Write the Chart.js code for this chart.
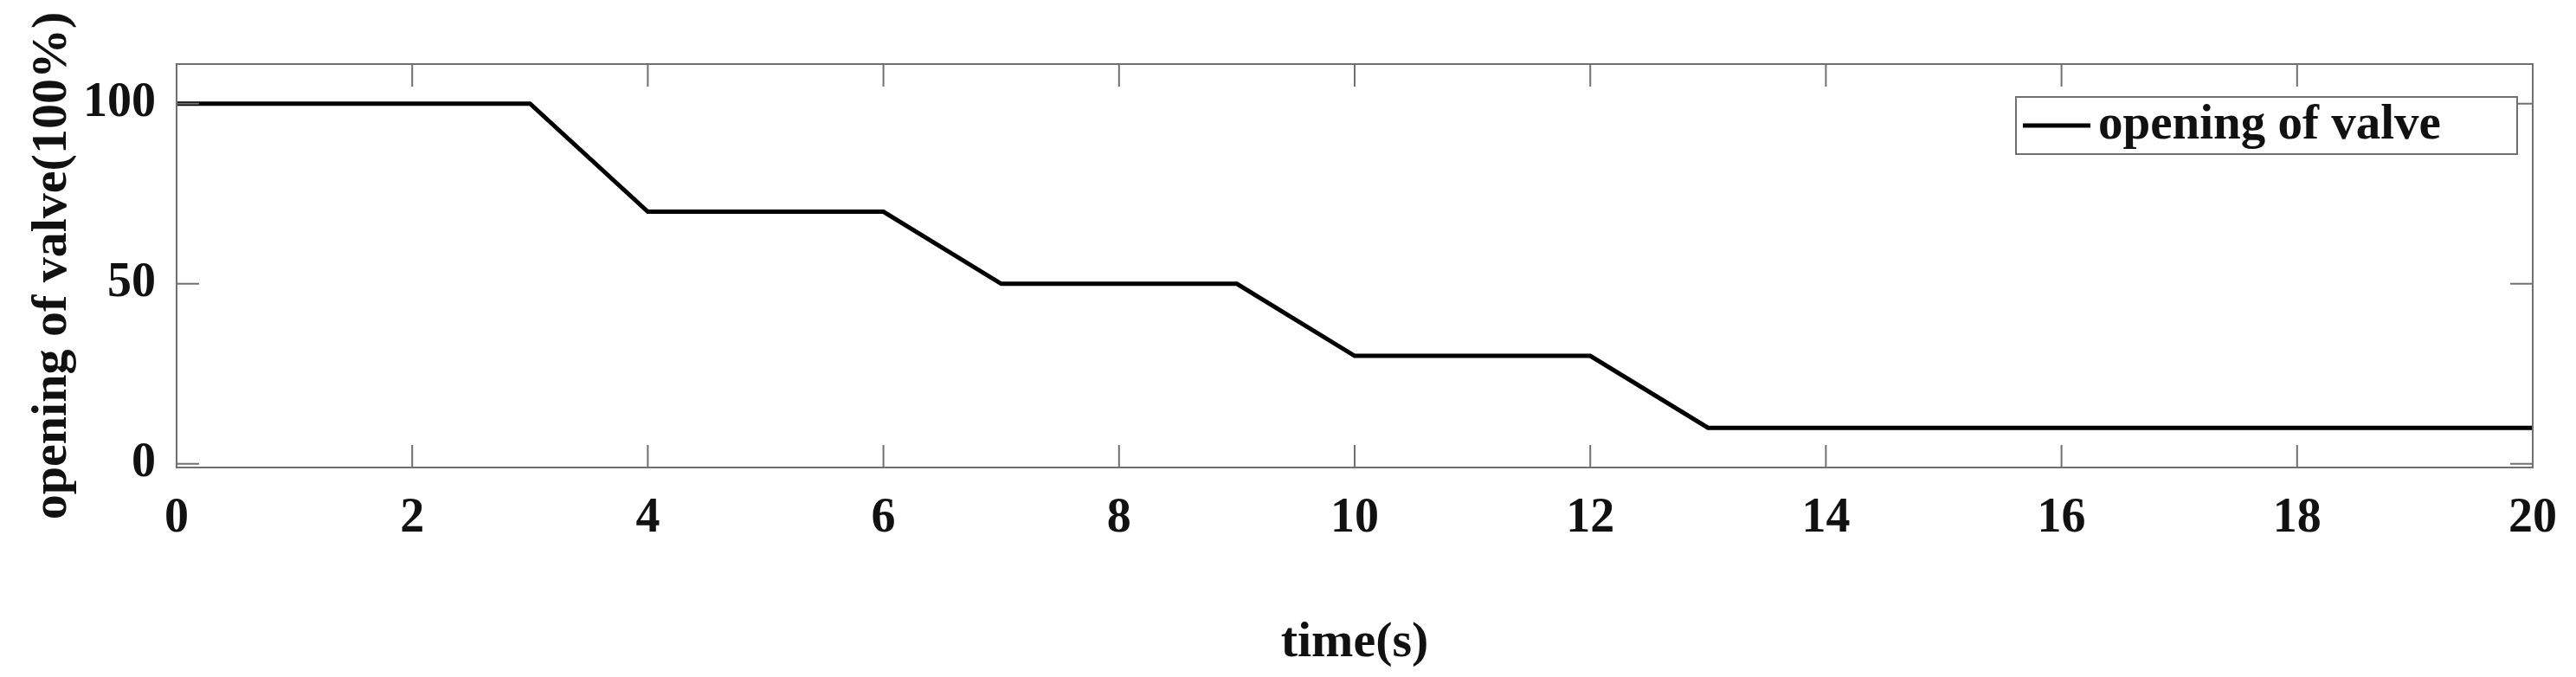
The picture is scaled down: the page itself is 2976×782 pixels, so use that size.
<!DOCTYPE html>
<html>
<head>
<meta charset="utf-8">
<script src="https://cdn.jsdelivr.net/npm/chart.js@4"></script>
<style>
  html, body { margin: 0; padding: 0; background: #fff; }
  #wrap { width: 2976px; height: 782px; }
</style>
</head>
<body>
<div id="wrap"><canvas id="chart" width="2976" height="782"></canvas></div>
<script>
const timeS = [0, 3, 4, 6, 7, 9, 10, 12, 13, 20];
const opening = [100, 100, 70, 70, 50, 50, 30, 30, 10, 10];
const yTicks = [0, 50, 100];
const seriesName = 'opening of valve';

const FONT = '"Liberation Serif", "Times New Roman", serif';

// frame, inward ticks on all four sides, and the legend box
const framePlugin = {
    id: 'frame',
    afterDatasetsDraw(chart) {
        const { ctx, chartArea: a, scales } = chart;
        ctx.save();
        ctx.strokeStyle = '#707070';
        ctx.lineWidth = 2;
        ctx.strokeRect(a.left, a.top, a.right - a.left, a.bottom - a.top);
        const t = 26;
        scales.x.ticks.forEach(tk => {
            const x = scales.x.getPixelForValue(tk.value);
            ctx.beginPath();
            ctx.moveTo(x, a.bottom); ctx.lineTo(x, a.bottom - t);
            ctx.moveTo(x, a.top); ctx.lineTo(x, a.top + t);
            ctx.stroke();
        });
        scales.y.ticks.forEach(tk => {
            const y = scales.y.getPixelForValue(tk.value);
            ctx.beginPath();
            ctx.moveTo(a.left, y); ctx.lineTo(a.left + t, y);
            ctx.moveTo(a.right, y); ctx.lineTo(a.right - t, y);
            ctx.stroke();
        });
        // legend
        const lx = 2329, ly = 112, lw = 579, lh = 66;
        ctx.fillStyle = '#fff';
        ctx.fillRect(lx, ly, lw, lh);
        ctx.strokeRect(lx, ly, lw, lh);
        ctx.strokeStyle = '#000';
        ctx.lineWidth = 5;
        ctx.beginPath();
        ctx.moveTo(lx + 8, ly + 33); ctx.lineTo(lx + 86, ly + 33);
        ctx.stroke();
        ctx.fillStyle = '#111';
        ctx.font = 'bold 57px ' + FONT;
        ctx.textBaseline = 'middle';
        ctx.fillText(seriesName, lx + 95, ly + 33);
        ctx.restore();
    }
};

new Chart(document.getElementById('chart'), {
    type: 'line',
    data: {
        datasets: [{
            label: seriesName,
            data: timeS.map((t, i) => ({ x: t, y: opening[i] })),
            borderColor: '#000',
            borderWidth: 5,
            pointRadius: 0,
            tension: 0
        }]
    },
    options: {
        responsive: false,
        animation: false,
        layout: { padding: { top: 74, right: 50, left: 22, bottom: 0 } },
        plugins: { legend: { display: false }, tooltip: { enabled: false } },
        scales: {
            x: {
                type: 'linear',
                min: 0, max: 20,
                ticks: { stepSize: 2, color: '#111', padding: 18, maxRotation: 0,
                         font: { family: FONT, size: 56, weight: 'bold' } },
                grid: { display: false },
                border: { display: false },
                title: { display: true, text: 'time(s)', color: '#111', padding: { top: 14 },
                         font: { family: FONT, size: 58, weight: 'bold' } },
                afterFit(s) { s.height = 242; }
            },
            y: {
                min: -1, max: 111,
                afterBuildTicks(s) { s.ticks = yTicks.map(v => ({ value: v })); },
                ticks: { color: '#111', padding: 16,
                         font: { family: FONT, size: 56, weight: 'bold' } },
                grid: { display: false },
                border: { display: false },
                title: { display: true, text: 'opening of valve(100%)', color: '#111', padding: { bottom: 0 },
                         font: { family: FONT, size: 58, weight: 'bold' } },
                afterFit(s) { s.width = 182; }
            }
        }
    },
    plugins: [framePlugin]
});
</script>
</body>
</html>
